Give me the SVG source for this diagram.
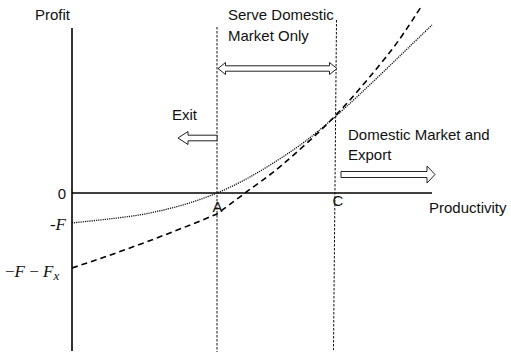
<svg xmlns="http://www.w3.org/2000/svg" width="511" height="357" viewBox="0 0 511 357">
<style>
.lbl{font-family:"Liberation Sans",Arial,sans-serif;font-size:15px;fill:#111}
.math{font-family:"Liberation Serif","Times New Roman",serif;font-size:17px;fill:#111}
.axis{stroke:#000;stroke-width:1.6;fill:none}
.guide{stroke:#111;stroke-width:1;stroke-dasharray:2.5 1.5;fill:none}
.dom{stroke:#111;stroke-width:1.3;stroke-dasharray:1.2 1;fill:none}
.exp{stroke:#000;stroke-width:1.6;stroke-dasharray:6 4;fill:none}
.arrow{fill:#fff;stroke:#222;stroke-width:1}
</style>
<rect width="511" height="357" fill="#fff"/>
<g id="axes">
<line class="axis" x1="72" y1="28" x2="72" y2="351"/>
<line class="axis" x1="72" y1="193" x2="432" y2="193"/>
</g>
<g id="guides">
<line class="guide" x1="217" y1="27" x2="217" y2="352"/>
<line class="guide" x1="336.5" y1="20" x2="333.5" y2="350"/>
</g>
<g id="curves">
<path id="domestic-profit" class="dom" d="M72,223 C85,221.3 125.8,218 150,213 C174.2,208 195.7,201.8 217,193 C238.3,184.2 258.2,172.8 278,160 C297.8,147.2 310.3,138.5 336,116 C361.7,93.5 416,40.2 432,25"/>
<path id="export-profit" class="exp" d="M72,268 Q145,244 217,214 C221.7,210.5 234.2,201.2 245,193 C255.8,184.8 266.8,178 282,165 C297.2,152 318,133.8 336,115 C354,96.2 375.8,70 390,52 C404.2,34 415.8,14.5 421,7"/>
</g>
<g id="arrows">
<polygon id="serve-arrow" class="arrow" points="218,68.5 225.5,62.5 225.5,65.8 329.5,65.8 329.5,62.5 337,68.5 329.5,74.5 329.5,71.2 225.5,71.2 225.5,74.5"/>
<polygon id="exit-arrow" class="arrow" points="178,138 188,131.5 188,135.2 217,135.2 217,140.8 188,140.8 188,144.5"/>
<polygon id="export-arrow" class="arrow" points="341,171.5 427,171.5 427,166 435,174.5 427,183 427,177.5 341,177.5"/>
</g>
<g id="labels">
<text class="lbl" x="35" y="20">Profit</text>
<text class="lbl" x="228" y="20">Serve Domestic</text>
<text class="lbl" x="228" y="40.5">Market Only</text>
<text class="lbl" x="172" y="120">Exit</text>
<text class="lbl" x="348" y="140">Domestic Market and</text>
<text class="lbl" x="348" y="160">Export</text>
<text class="lbl" x="66" y="199" text-anchor="end">0</text>
<text class="lbl" x="217.5" y="212" text-anchor="middle">A</text>
<text class="lbl" x="338" y="206" text-anchor="middle">C</text>
<text class="lbl" x="429" y="213">Productivity</text>
<text class="math" x="66" y="230" text-anchor="end">-<tspan font-style="italic">F</tspan></text>
<text class="math" x="5" y="277">−<tspan font-style="italic">F</tspan> − <tspan font-style="italic">F</tspan><tspan font-style="italic" font-size="13" dy="3">x</tspan></text>
</g>
</svg>
